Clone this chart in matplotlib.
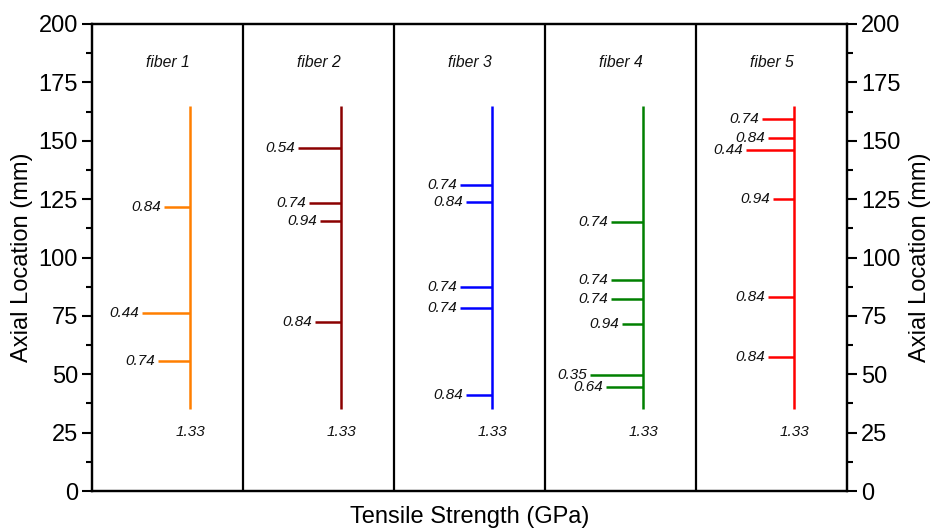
import matplotlib
matplotlib.use("Agg")
import matplotlib.pyplot as plt
from matplotlib.ticker import MultipleLocator

plt.rcParams['font.family'] = ['Liberation Sans', 'DejaVu Sans']

fibers = ["fiber 1", "fiber 2", "fiber 3", "fiber 4", "fiber 5"]
colors = ["#FF7F00", "#8B0000", "#0000FF", "#008000", "#FF0000"]
full_strength = 1.33
gauge_start = 35
gauge_end = 165

# break locations (mm) and strengths (GPa) for each fiber
loc1 = [121.6, 76.1, 55.8]
str1 = [0.84, 0.44, 0.74]
loc2 = [146.8, 123.3, 115.6, 72.5]
str2 = [0.54, 0.74, 0.94, 0.84]
loc3 = [131.0, 123.6, 87.4, 78.2, 41.1]
str3 = [0.74, 0.84, 0.74, 0.74, 0.84]
loc4 = [115.1, 90.2, 82.2, 71.4, 49.7, 44.7]
str4 = [0.74, 0.74, 0.74, 0.94, 0.35, 0.64]
loc5 = [159.2, 151.3, 146.0, 125.1, 83.2, 57.5]
str5 = [0.74, 0.84, 0.44, 0.94, 0.84, 0.84]

locs = [loc1, loc2, loc3, loc4, loc5]
strs = [str1, str2, str3, str4, str5]

W = 2.796
x0 = -0.485

fig = plt.figure(figsize=(9.36, 5.31), dpi=100)
ax = fig.add_axes([92/936, 40/531, 755/936, 467/531])

for i in range(5):
    off = i * W
    c = colors[i]
    ax.plot([off + full_strength] * 2, [gauge_start, gauge_end], color=c, lw=1.8,
            solid_capstyle='butt')
    for y, s in zip(locs[i], strs[i]):
        ax.plot([off + s, off + full_strength], [y, y], color=c, lw=1.8,
                solid_capstyle='butt')
        ax.annotate(f"{s:.2f}", xy=(off + s, y), xytext=(-2, 0),
                    textcoords='offset points', ha='right', va='center',
                    fontsize=11, style='italic', color='#111111')
    ax.text(off + full_strength, 25.3, f"{full_strength:.2f}", ha='center',
            va='center', fontsize=11, style='italic', color='#111111')
    ax.text(x0 + off + W / 2, 183.5, fibers[i], ha='center', va='center',
            fontsize=11.3, style='italic', color='#111111')
    if i > 0:
        ax.axvline(x0 + off, color='black', lw=1.6)

ax.set_xlim(x0, x0 + 5 * W)
ax.set_ylim(0, 200)
ax.set_xticks([])
ax.yaxis.set_major_locator(MultipleLocator(25))
ax.yaxis.set_minor_locator(MultipleLocator(12.5))
ax.tick_params(axis='y', which='major', direction='out', length=7, width=1.5,
               labelsize=17, pad=3)
ax.tick_params(axis='y', which='minor', direction='out', length=4, width=1.5)
for sp in ax.spines.values():
    sp.set_linewidth(1.6)
ax.set_ylabel("Axial Location (mm)", fontsize=17, labelpad=4)
ax.set_xlabel("Tensile Strength (GPa)", fontsize=17, labelpad=11)

ax2 = ax.twinx()
ax2.set_ylim(0, 200)
ax2.yaxis.set_major_locator(MultipleLocator(25))
ax2.yaxis.set_minor_locator(MultipleLocator(12.5))
ax2.tick_params(axis='y', which='major', direction='out', length=7, width=1.5,
                labelsize=17, pad=3)
ax2.tick_params(axis='y', which='minor', direction='out', length=4, width=1.5)
for sp in ax2.spines.values():
    sp.set_linewidth(1.6)
ax2.set_ylabel("Axial Location (mm)", fontsize=17, labelpad=6)

fig.savefig("out.png", dpi=100)
